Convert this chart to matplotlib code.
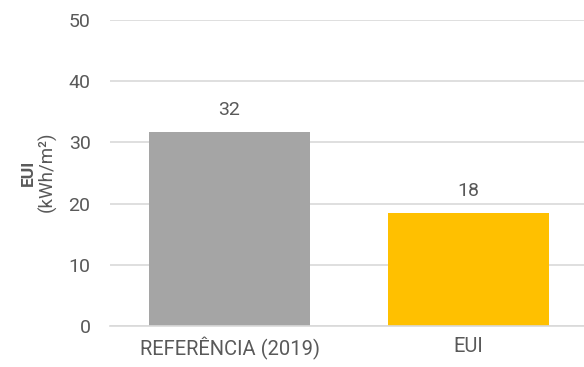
import matplotlib.pyplot as plt

plt.rcParams['font.family'] = ['Roboto', 'DejaVu Sans']

categories = ['REFERÊNCIA (2019)', 'EUI']
values = [31.7, 18.4]
bar_colors = ['#a5a5a5', '#ffc000']
yticks = [0, 10, 20, 30, 40, 50]

text_color = '#595959'
grid_color = '#d9d9d9'

fig = plt.figure(figsize=(5.84, 3.67), dpi=100)
ax = fig.add_axes([110 / 584, 41 / 367, 478 / 584, 306 / 367])

x = range(len(categories))
bars = ax.bar(x, values, width=0.67, color=bar_colors, zorder=2)

for b, v in zip(bars, values):
    ax.annotate('%.0f' % v, (b.get_x() + b.get_width() / 2, v),
                xytext=(0, 12.5), textcoords='offset points',
                ha='center', va='baseline', fontsize=14, color=text_color)

ax.set_xlim(-0.5, 1.5)
ax.set_ylim(0, 50)
ax.set_yticks(yticks)
ax.set_xticks(list(x))
ax.set_xticklabels(categories)
ax.yaxis.grid(True, color=grid_color, linewidth=1.2, zorder=0)
ax.set_axisbelow(True)

for side in ['top', 'right', 'left']:
    ax.spines[side].set_visible(False)
ax.spines['bottom'].set_color(grid_color)
ax.spines['bottom'].set_linewidth(1.2)

ax.tick_params(axis='y', length=0, pad=14, labelsize=14, labelcolor=text_color)
ax.tick_params(axis='x', length=0, pad=8, labelsize=14.5, labelcolor=text_color)

# two-line axis title: bold name, units underneath
fig.text(28 / 584, 1 - 173 / 367, 'EUI', rotation=90, ha='center', va='center',
         fontsize=12.5, fontweight='bold', color=text_color)
fig.text(47 / 584, 1 - 172 / 367, '(kWh/m²)', rotation=90, ha='center', va='center',
         fontsize=13.5, color=text_color)

fig.savefig('out.png', dpi=100)
